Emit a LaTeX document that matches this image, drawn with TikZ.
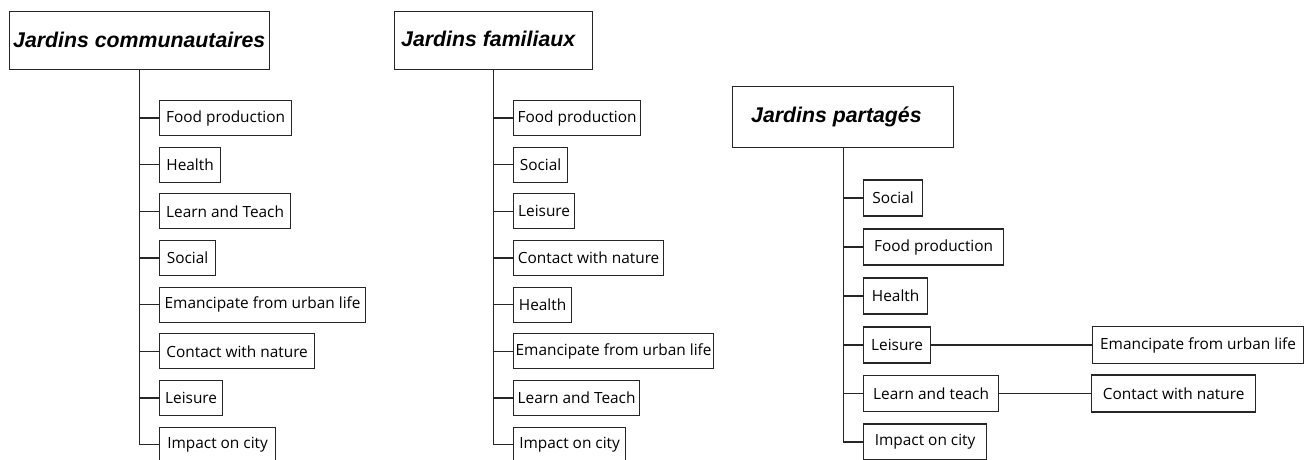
\documentclass[tikz,border=0pt]{standalone}
\usepackage{fontspec}
\setmainfont{Open Sans}
\newfontfamily\titlefont{Liberation Sans}
\begin{document}
\begin{tikzpicture}[x=1pt,y=-1pt,
  box/.style={draw=black!85, line width=1.2pt},
  titlebox/.style={box, anchor=north west, inner sep=0pt},
  titletext/.style={anchor=base west, inner sep=0pt, font=\titlefont\bfseries\itshape\fontsize{21.3}{25}\selectfont},
  item/.style={box, anchor=west, inner sep=0pt, font=\fontsize{15.4}{18}\selectfont},
  link/.style={draw=black!85, line width=1.2pt}]
\useasboundingbox (0,0) rectangle (1312,460);
\clip (0,0) rectangle (1312,460);
% ---------- column 1 ----------
\node[titlebox, minimum width=260pt, minimum height=58pt] (t1) at (9,11) {};
\node[titletext] (t1x) at (13,48) {Jardins communautaires};
\node[item, minimum width=132pt, minimum height=35pt] (a1) at (159,118) {Food production};
\node[item, minimum width=61pt,  minimum height=35pt] (a2) at (159,164.6) {Health};
\node[item, minimum width=131pt, minimum height=35pt] (a3) at (159,211.3) {Learn and Teach};
\node[item, minimum width=56pt,  minimum height=35pt] (a4) at (159,258) {Social};
\node[item, minimum width=206pt, minimum height=35pt] (a5) at (159,304.6) {Emancipate from urban life};
\node[item, minimum width=155pt, minimum height=35pt] (a6) at (159,351.3) {Contact with nature};
\node[item, minimum width=63pt,  minimum height=35pt] (a7) at (159,398) {Leisure};
\node[item, minimum width=116pt, minimum height=35pt] (a8) at (159,444.6) {Impact on city};
\foreach \n in {a1,a2,a3,a4,a5,a6,a7,a8} \draw[link] (t1.south) |- (\n.west);
% ---------- column 2 ----------
\node[titlebox, minimum width=198pt, minimum height=58pt] (t2) at (394,11) {};
\node[titletext] (t2x) at (401,47) {Jardins familiaux};
\node[item, minimum width=127pt, minimum height=35pt] (b1) at (513,118) {Food production};
\node[item, minimum width=54pt,  minimum height=35pt] (b2) at (513,164.6) {Social};
\node[item, minimum width=61pt,  minimum height=35pt] (b3) at (513,211.3) {Leisure};
\node[item, minimum width=150pt, minimum height=35pt] (b4) at (513,258) {Contact with nature};
\node[item, minimum width=58pt,  minimum height=35pt] (b5) at (513,304.6) {Health};
\node[item, minimum width=200pt, minimum height=35pt] (b6) at (513,351.3) {Emancipate from urban life};
\node[item, minimum width=126pt, minimum height=35pt] (b7) at (513,398) {Learn and Teach};
\node[item, minimum width=112pt, minimum height=35pt] (b8) at (513,444.6) {Impact on city};
\foreach \n in {b1,b2,b3,b4,b5,b6,b7,b8} \draw[link] (t2.south) |- (\n.west);
% ---------- column 3 ----------
\node[titlebox, minimum width=221pt, minimum height=61pt] (t3) at (732,86) {};
\node[titletext] (t3x) at (751,122) {Jardins partagés};
\node[item, minimum width=59pt,  minimum height=36pt] (c1) at (863,198) {Social};
\node[item, minimum width=140pt, minimum height=36pt] (c2) at (863,247) {Food production};
\node[item, minimum width=64pt,  minimum height=36pt] (c3) at (863,296) {Health};
\node[item, minimum width=67pt,  minimum height=36pt] (c4) at (863,345) {Leisure};
\node[item, minimum width=135pt, minimum height=36pt] (c5) at (863,393.5) {Learn and teach};
\node[item, minimum width=123pt, minimum height=36pt] (c6) at (863,442) {Impact on city};
\foreach \n in {c1,c2,c3,c4,c5,c6} \draw[link] (t3.south) |- (\n.west);
\node[item, minimum width=211pt, minimum height=37pt] (d1) at (1092,345) {Emancipate from urban life};
\node[item, minimum width=164pt, minimum height=37pt] (d2) at (1091,393.5) {Contact with nature};
\draw[link] (c4.east) -- (d1.west);
\draw[link] (c5.east) -- (d2.west);
\end{tikzpicture}
\end{document}
